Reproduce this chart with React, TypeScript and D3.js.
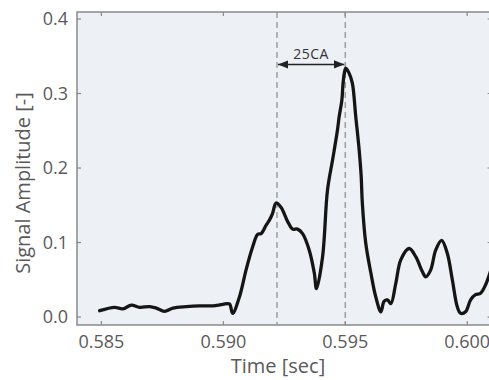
import React from "react";
import * as d3 from "d3";

const timeValues = [
  0.58493, 0.58554, 0.58588, 0.58623, 0.58657, 0.58698, 0.58725, 0.58759, 0.58793, 0.58848,
  0.58902, 0.58957, 0.58998, 0.59025, 0.59038, 0.59066, 0.59093, 0.5912, 0.59141, 0.59155,
  0.59175, 0.59189, 0.59202, 0.59216, 0.59237, 0.59264, 0.59284, 0.59304, 0.59325, 0.59352,
  0.59373, 0.59382, 0.59407, 0.59427, 0.59448, 0.59468, 0.59475, 0.59486, 0.59491, 0.59496,
  0.59502, 0.59516, 0.59529, 0.59543, 0.59557, 0.59565, 0.5957, 0.59584, 0.59605, 0.59625,
  0.59646, 0.59659, 0.59673, 0.59687, 0.59707, 0.59728, 0.59762, 0.59789, 0.59816, 0.5983,
  0.5985, 0.59871, 0.59895, 0.59918, 0.59939, 0.59959, 0.59973, 0.59993, 0.60014, 0.60034,
  0.60055, 0.60075, 0.60097,
];
const amplitudeValues = [
  0.0085, 0.013, 0.011, 0.016, 0.013, 0.014, 0.012, 0.0077, 0.012, 0.014,
  0.015, 0.015, 0.017, 0.0175, 0.005, 0.027, 0.063, 0.094, 0.111, 0.112,
  0.123, 0.13, 0.139, 0.153, 0.147, 0.128, 0.118, 0.118, 0.112, 0.09,
  0.059, 0.038, 0.081, 0.17, 0.211, 0.251, 0.269, 0.291, 0.314, 0.327,
  0.334, 0.327, 0.314, 0.269, 0.224, 0.19, 0.153, 0.099, 0.059, 0.027,
  0.007, 0.021, 0.023, 0.018, 0.045, 0.077, 0.092, 0.081, 0.061, 0.054,
  0.063, 0.09, 0.103, 0.086, 0.05, 0.014, 0.005, 0.007, 0.023, 0.03,
  0.032, 0.043, 0.063,
];
const xTicks = [0.585, 0.59, 0.595, 0.6];
const yTicks = [0.0, 0.1, 0.2, 0.3, 0.4];
const markerTimes = [0.5922, 0.595];
const annotationLabel = "25CA";
const annotationLevel = 0.339;
const xDomain = [0.584, 0.601];
const yDomain = [-0.0107, 0.4094];

const W = 489;
const H = 380;
const M = { left: 77, right: -2.6, top: 12, bottom: 55 };
const FONT = "'Open Sans', 'Noto Sans', sans-serif";
const TXT = "#5a5a5a";

export default function App() {
  const x = d3.scaleLinear().domain(xDomain).range([M.left, W - M.right]);
  const y = d3.scaleLinear().domain(yDomain).range([H - M.bottom, M.top]);
  const data = timeValues.map((t, i) => [t, amplitudeValues[i]] as [number, number]);
  const line = d3
    .line<[number, number]>()
    .x((d) => x(d[0]))
    .y((d) => y(d[1]))
    .curve(d3.curveCatmullRom.alpha(0.5));
  const x0 = M.left;
  const x1 = W - M.right;
  const y0 = H - M.bottom;
  const y1 = M.top;
  const ay = y(annotationLevel);
  const ax0 = x(markerTimes[0]);
  const ax1 = x(markerTimes[1]);
  const tick = 4;
  return (
    <div style={{ position: "absolute", left: 0, top: 0 }}>
      <svg width={W} height={H} style={{ display: "block", background: "#fff" }}>
        <defs>
          <clipPath id="plotclip">
            <rect x={x0} y={y1} width={x1 - x0} height={y0 - y1} />
          </clipPath>
          <marker id="arrEnd" viewBox="0 0 10 10" refX="10" refY="5" markerWidth="7" markerHeight="7" orient="auto-start-reverse">
            <path d="M0,1 L10,5 L0,9 z" fill="#222" />
          </marker>
        </defs>
        <rect x={x0} y={y1} width={x1 - x0} height={y0 - y1} fill="#edf0f4" />
        {markerTimes.map((t, i) => (
          <line key={i} x1={x(t)} x2={x(t)} y1={y1} y2={y0} stroke="#9a9a9a" strokeWidth={1.4} strokeDasharray="6,4" />
        ))}
        <g clipPath="url(#plotclip)">
          <path d={line(data) || ""} fill="none" stroke="#151515" strokeWidth={3.3} strokeLinejoin="round" strokeLinecap="round" />
        </g>
        <line x1={ax0 + 1} x2={ax1 - 1} y1={ay} y2={ay} stroke="#222" strokeWidth={1.5} markerStart="url(#arrEnd)" markerEnd="url(#arrEnd)" />
        <text x={(ax0 + ax1) / 2} y={ay - 5} textAnchor="middle" fontFamily={FONT} fontSize={14} fontWeight={500} fill="#333" letterSpacing={0.5}>
          {annotationLabel}
        </text>
        <rect x={x0} y={y1} width={x1 - x0} height={y0 - y1} fill="none" stroke="#8a8a8a" strokeWidth={1.5} />
        {xTicks.map((t) => (
          <g key={"x" + t}>
            <line x1={x(t)} x2={x(t)} y1={y0} y2={y0 - tick} stroke="#8a8a8a" strokeWidth={1.2} />
            <line x1={x(t)} x2={x(t)} y1={y1} y2={y1 + tick} stroke="#8a8a8a" strokeWidth={1.2} />
            <text x={x(t)} y={y0 + 23} textAnchor="middle" fontFamily={FONT} fontSize={18} fill={TXT}>
              {d3.format(".3f")(t)}
            </text>
          </g>
        ))}
        {yTicks.map((v) => (
          <g key={"y" + v}>
            <line x1={x0} x2={x0 + tick} y1={y(v)} y2={y(v)} stroke="#8a8a8a" strokeWidth={1.2} />
            <line x1={x1} x2={x1 - tick} y1={y(v)} y2={y(v)} stroke="#8a8a8a" strokeWidth={1.2} />
            <text x={x0 - 9} y={y(v)} dy="0.35em" textAnchor="end" fontFamily={FONT} fontSize={18} fill={TXT}>
              {d3.format(".1f")(v)}
            </text>
          </g>
        ))}
        <text x={278} y={H - 7} textAnchor="middle" fontFamily={FONT} fontSize={20} fill={TXT}>
          Time [sec]
        </text>
        <text transform={`translate(30,${183}) rotate(-90)`} textAnchor="middle" fontFamily={FONT} fontSize={20} fill={TXT}>
          Signal Amplitude [-]
        </text>
      </svg>
    </div>
  );
}
